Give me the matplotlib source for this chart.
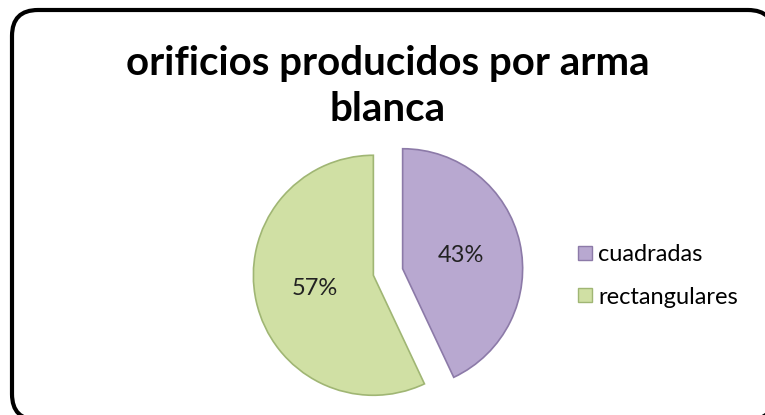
import matplotlib
matplotlib.use("Agg")
import matplotlib.pyplot as plt
from matplotlib.patches import FancyBboxPatch
from matplotlib.lines import Line2D

plt.rcParams['font.family'] = ['Lato', 'DejaVu Sans']

title_lines = ["orificios producidos por arma", "blanca"]
labels = ["cuadradas", "rectangulares"]
values = [43, 57]
colors = ['#b8a8d0', '#d0e0a4']
edges = ['#8c7aa8', '#a0b674']

W, H = 765, 415
fig = plt.figure(figsize=(W / 100, H / 100), dpi=100)

# background axes in pixel units for the rounded border
bg = fig.add_axes([0, 0, 1, 1])
bg.set_xlim(0, W)
bg.set_ylim(H, 0)
bg.axis('off')
box = FancyBboxPatch((12, 10), 762, 410, boxstyle="round,pad=0,rounding_size=26",
                     facecolor='white', edgecolor='black', linewidth=3, clip_on=False)
bg.add_patch(box)

bg.text(388, 63, title_lines[0], ha='center', va='center', fontsize=29, fontweight='bold')
bg.text(388, 109, title_lines[1], ha='center', va='center', fontsize=29, fontweight='bold')

# pie axes, centred at (388, 272) px with radius 120 px
cx, cy, r = 388, H - 272, 120
lim = 1.3
ax = fig.add_axes([(cx - lim * r) / W, (cy - lim * r) / H, 2 * lim * r / W, 2 * lim * r / H])
wedges, texts, autotexts = ax.pie(values, colors=colors, startangle=90, counterclock=False,
                                  explode=[0.125, 0.125], autopct='%d%%', pctdistance=0.5,
                                  wedgeprops=dict(linewidth=1.2),
                                  textprops=dict(fontsize=17, color='#222222'))
for w, ec in zip(wedges, edges):
    w.set_edgecolor(ec)
ax.set_xlim(-lim, lim)
ax.set_ylim(-lim, lim)
ax.axis('off')

handles = [Line2D([], [], marker='s', linestyle='none', markersize=10,
                  markerfacecolor=c, markeredgecolor=e) for c, e in zip(colors, edges)]
fig.legend(handles, labels, loc='center left', bbox_to_anchor=(563 / W, 1 - 276 / H),
           frameon=False, fontsize=17, handletextpad=0.1, labelspacing=0.9,
           handlelength=0.9, borderpad=0)

fig.savefig("out.png", dpi=100)
